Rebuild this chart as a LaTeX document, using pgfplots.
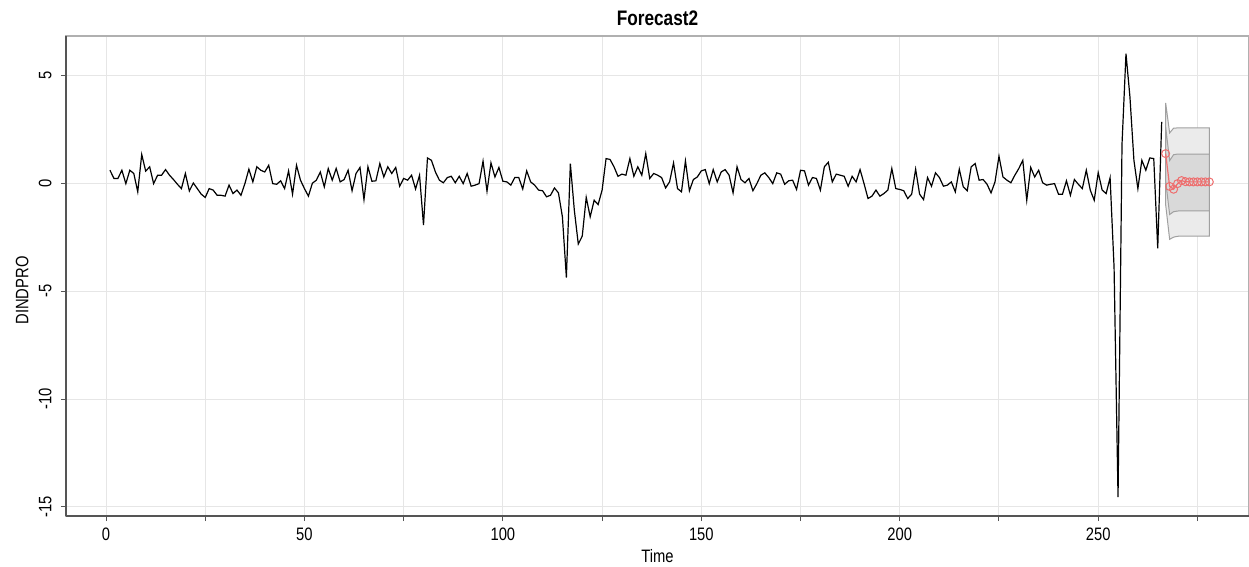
\documentclass[border=0pt]{standalone}
\usepackage{pgfplots}
\pgfplotsset{compat=1.18}
\usepackage{pgfplotstable}
\usepackage{fontspec}
\setmainfont[FakeStretch=0.82]{Liberation Sans}
\definecolor{gridc}{HTML}{E6E6E6}
\definecolor{boxc}{HTML}{B0B0B0}
\definecolor{axc}{HTML}{555555}
\definecolor{fcol}{HTML}{EE6E6E}
\definecolor{outerf}{HTML}{EBEBEB}
\definecolor{innerf}{HTML}{D9D9D9}
\definecolor{edgec}{HTML}{A0A0A0}

\pgfplotstableread{
t y
1 0.60
2 0.22
3 0.22
4 0.60
5 -0.02
6 0.60
7 0.45
8 -0.40
9 1.33
10 0.56
11 0.76
12 -0.02
13 0.37
14 0.37
15 0.63
16 0.37
17 0.17
18 -0.05
19 -0.25
20 0.45
21 -0.36
22 0.01
23 -0.25
24 -0.51
25 -0.66
26 -0.25
27 -0.32
28 -0.56
29 -0.56
30 -0.60
31 -0.09
32 -0.48
33 -0.32
34 -0.56
35 -0.02
36 0.65
37 0.06
38 0.76
39 0.60
40 0.52
41 0.83
42 -0.02
43 -0.05
44 0.11
45 -0.25
46 0.57
47 -0.51
48 0.83
49 0.14
50 -0.25
51 -0.60
52 0.00
53 0.14
54 0.52
55 -0.17
56 0.68
57 0.14
58 0.68
59 0.06
60 0.17
61 0.60
62 -0.35
63 0.45
64 0.73
65 -0.76
66 0.76
67 0.09
68 0.11
69 0.91
70 0.29
71 0.76
72 0.45
73 0.73
74 -0.14
75 0.22
76 0.14
77 0.37
78 -0.27
79 0.37
80 -1.94
81 1.17
82 1.06
83 0.52
84 0.14
85 0.02
86 0.26
87 0.32
88 0.02
89 0.32
90 -0.02
91 0.45
92 -0.14
93 -0.09
94 -0.02
95 1.02
96 -0.37
97 0.94
98 0.29
99 0.73
100 0.09
101 0.06
102 -0.09
103 0.26
104 0.26
105 -0.27
106 0.57
107 0.06
108 -0.09
109 -0.32
110 -0.35
111 -0.63
112 -0.56
113 -0.22
114 -0.45
115 -1.56
116 -4.37
117 0.91
118 -1.25
119 -2.82
120 -2.45
121 -0.66
122 -1.56
123 -0.79
124 -0.99
125 -0.32
126 1.14
127 1.10
128 0.76
129 0.32
130 0.42
131 0.37
132 1.14
133 0.32
134 0.76
135 0.37
136 1.37
137 0.22
138 0.45
139 0.37
140 0.26
141 -0.22
142 0.06
143 0.94
144 -0.25
145 -0.40
146 1.03
147 -0.35
148 0.17
149 0.29
150 0.57
151 0.63
152 -0.02
153 0.63
154 0.06
155 0.52
156 0.63
157 0.37
158 -0.45
159 0.76
160 0.17
161 0.02
162 0.22
163 -0.35
164 -0.02
165 0.37
166 0.48
167 0.26
168 -0.02
169 0.48
170 0.42
171 -0.05
172 0.11
173 0.14
174 -0.29
175 0.60
176 0.57
177 -0.09
178 0.26
179 0.22
180 -0.32
181 0.76
182 0.97
183 0.06
184 0.42
185 0.37
186 0.32
187 -0.14
188 0.32
189 0.06
190 0.63
191 -0.02
192 -0.71
193 -0.60
194 -0.32
195 -0.60
196 -0.48
197 -0.32
198 0.68
199 -0.25
200 -0.29
201 -0.35
202 -0.71
203 -0.51
204 0.65
205 -0.51
206 -0.76
207 0.26
208 -0.14
209 0.48
210 0.26
211 -0.14
212 -0.09
213 0.06
214 -0.40
215 0.65
216 -0.17
217 -0.35
218 0.76
219 0.91
220 0.14
221 0.17
222 -0.05
223 -0.45
224 0.06
225 1.25
226 0.29
227 0.14
228 0.02
229 0.37
230 0.68
231 1.06
232 -0.79
233 0.73
234 0.29
235 0.60
236 0.02
237 -0.09
238 -0.05
239 -0.02
240 -0.51
241 -0.51
242 0.11
243 -0.56
244 0.17
245 -0.05
246 -0.25
247 0.60
248 -0.32
249 -0.79
250 0.49
251 -0.32
252 -0.48
253 0.25
254 -3.90
255 -14.55
256 1.80
257 6.00
258 4.00
259 1.06
260 -0.25
261 1.06
262 0.60
263 1.17
264 1.14
265 -3.02
266 2.84
}\histdata

\pgfplotstableread{
t y
267 1.37
268 -0.15
269 -0.28
270 -0.02
271 0.12
272 0.07
273 0.06
274 0.06
275 0.06
276 0.06
277 0.06
278 0.06
}\fcdata

\begin{document}
\begin{tikzpicture}
\begin{axis}[
  name=ax,
  scale only axis,
  width=591.5bp, height=240bp,
  xmin=-10.08, xmax=288.0,
  ymin=-15.42, ymax=6.82,
  axis line style={boxc, line width=0.6bp},
  xtick={0,25,...,275},
  xticklabels={0,,50,,100,,150,,200,,250,},
  ytick={-15,-10,-5,0,5},
  tick align=outside,
  major tick length=2.5bp,
  tick style={axc, line width=0.5bp},
  xtick pos=bottom, ytick pos=left,
  grid=major,
  grid style={gridc, line width=0.5bp},
  /pgf/number format/assume math mode=true,
  ticklabel style={font=\fontsize{9bp}{10bp}\selectfont, inner sep=0pt},
  xticklabel style={anchor=north, yshift=-3.5bp},
  yticklabel style={rotate=90, anchor=south},
  yticklabel shift=4.5bp,
  xlabel={Time},
  ylabel={DINDPRO},
  title={Forecast2},
  title style={at={(0.5,1.0229)}, anchor=south, yshift=-6.5bp, inner sep=0pt, font=\bfseries\fontsize{10.5bp}{12bp}\selectfont},
  xlabel style={at={(0.5,-0.06875)}, anchor=north, inner sep=0pt, font=\fontsize{9bp}{10bp}\selectfont},
  ylabel style={at={(-0.0313,0.47)}, anchor=south, rotate=0, inner sep=0pt, font=\fontsize{9bp}{10bp}\selectfont},
  clip=false,
]
% 95% band
\addplot[fill=outerf, draw=edgec, line width=0.5bp] coordinates {
 (267,3.72) (268,2.33) (269,2.55) (270,2.56) (271,2.56) (272,2.56) (273,2.56) (274,2.56) (275,2.56) (276,2.56) (277,2.56) (278,2.56)
 (278,-2.45) (277,-2.45) (276,-2.45) (275,-2.45) (274,-2.45) (273,-2.45) (272,-2.45) (271,-2.45) (270,-2.46) (269,-2.50) (268,-2.60) (267,-1.00)
} -- cycle;
% 80% band
\addplot[fill=innerf, draw=edgec, line width=0.5bp] coordinates {
 (267,2.60) (268,1.05) (269,1.32) (270,1.35) (271,1.35) (272,1.35) (273,1.35) (274,1.35) (275,1.35) (276,1.35) (277,1.35) (278,1.35)
 (278,-1.28) (277,-1.28) (276,-1.28) (275,-1.28) (274,-1.28) (273,-1.28) (272,-1.28) (271,-1.28) (270,-1.29) (269,-1.32) (268,-1.45) (267,0.10)
} -- cycle;
\addplot[black, line width=0.6bp] table[x=t,y=y] {\histdata};
\addplot[fcol, line width=0.6bp, mark=o, mark size=2bp, mark options={solid, line width=0.5bp}] table[x=t,y=y] {\fcdata};
\draw[axc, line width=0.6bp] (axis cs:-10.08,-15.42) -- (axis cs:-10.08,6.82);
\draw[axc, line width=0.6bp] (axis cs:-10.08,-15.42) -- (axis cs:288,-15.42);
\end{axis}
\pgfresetboundingbox
\path ([xshift=-33bp,yshift=-25.5bp]ax.south west) rectangle ([yshift=18bp]ax.north east);
\end{tikzpicture}
\end{document}
